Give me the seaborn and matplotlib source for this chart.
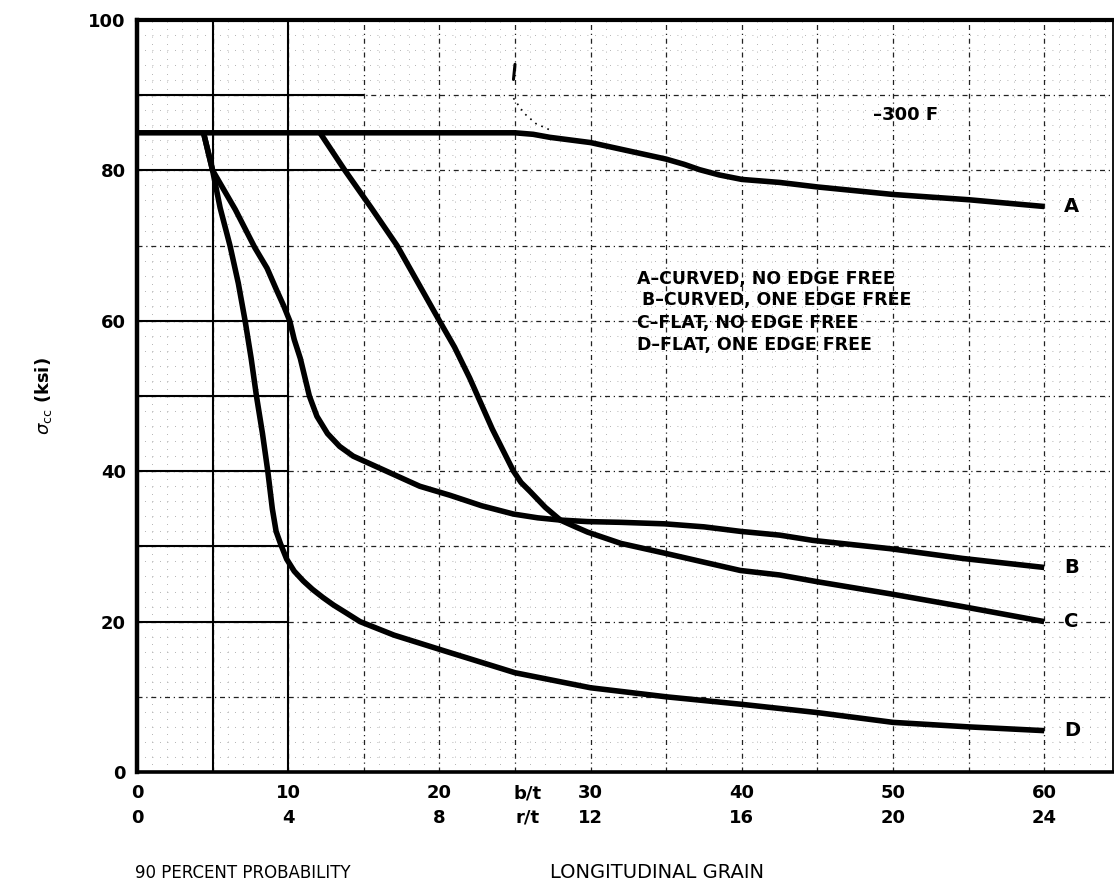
import numpy as np
import pandas as pd
import matplotlib
matplotlib.use("Agg")
import matplotlib.pyplot as plt
import seaborn as sns

# Crippling stress curves, -300 F, 90 percent probability, longitudinal grain
a_bt = [0, 25, 26.2, 27.3, 30, 32.5, 35, 36.2, 37.2, 38.5, 40, 42.5, 45, 50, 55, 60]
a_sig = [85, 85, 84.8, 84.4, 83.7, 82.6, 81.5, 80.8, 80.1, 79.4, 78.8, 78.4, 77.8,
         76.8, 76.1, 75.2]

b_bt = [4.4, 5.0, 6.5, 7.8, 8.6, 9.25, 9.7, 10.1, 10.4, 10.8, 11.1, 11.4, 11.9,
        12.6, 13.4, 14.3, 15.4, 16.5, 18.7, 20.7, 22.8, 24.9, 26.5, 28.0, 29.8,
        32.0, 34.9, 37.5, 39.9, 42.5, 44.7, 49.8, 54.6, 60]
b_sig = [85, 80, 74.8, 69.7, 67, 64, 62, 60, 57.5, 55, 52.5, 50, 47.3,
         45, 43.3, 42, 41, 40, 38, 36.8, 35.4, 34.3, 33.8, 33.5, 33.3,
         33.2, 33.0, 32.6, 32.0, 31.5, 30.8, 29.7, 28.4, 27.2]

c_bt = [12.1, 13.75, 15.5, 17.2, 18.6, 20.0, 21.0, 22.0, 23.5, 24.9, 25.4, 26.0,
        27.0, 28.0, 29.0, 29.8, 32.0, 34.9, 37.5, 39.9, 42.5, 45, 49.8, 54.6, 60]
c_sig = [85, 80, 75, 70, 65, 60, 56.5, 52.4, 45.6, 40, 38.5, 37.3,
         35.2, 33.5, 32.6, 31.9, 30.4, 29.1, 27.9, 26.8, 26.2, 25.3, 23.7, 22.0, 20.0]

d_bt = [4.4, 5.0, 5.5, 6.15, 6.7, 7.15, 7.55, 7.9, 8.3, 8.65, 8.95, 9.2, 9.5, 9.9,
        10.4, 11.0, 11.6, 12.3, 13.0, 13.8, 14.75, 17.0, 20.5, 25, 30, 35, 40, 45,
        50, 55, 60]
d_sig = [85, 80, 75, 70, 65, 60, 55, 50, 45, 40, 35, 32, 30.3, 28.3,
         26.7, 25.4, 24.3, 23.2, 22.2, 21.2, 20, 18.2, 16, 13.2, 11.2, 10.0, 9.0, 7.9,
         6.6, 6.0, 5.5]

curve_names = ["A", "B", "C", "D"]
legend_lines = ["A\u2013CURVED, NO EDGE FREE",
                "B\u2013CURVED, ONE EDGE FREE",
                "C\u2013FLAT, NO EDGE FREE",
                "D\u2013FLAT, ONE EDGE FREE"]

bt_ticks = [0, 10, 20, 30, 40, 50, 60]
rt_ticks = ["0", "4", "8", "12", "16", "20", "24"]
sig_ticks = [0, 20, 40, 60, 80, 100]

# small pencil mark near the top of the chart
mark_bt = [25.0, 24.9]
mark_sig = [94.1, 92.1]
trace_bt = [24.9, 25.6, 26.4, 27.4]
trace_sig = [89.6, 87.6, 86.2, 85.3]

sns.set_theme(style="white")
plt.rcParams["font.family"] = ["DejaVu Sans"]
plt.rcParams["text.color"] = "black"
plt.rcParams["axes.labelcolor"] = "black"
plt.rcParams["xtick.color"] = "black"
plt.rcParams["ytick.color"] = "black"

frames = []
for name, xs, ys in zip(curve_names, [a_bt, b_bt, c_bt, d_bt],
                        [a_sig, b_sig, c_sig, d_sig]):
    frames.append(pd.DataFrame({"bt": xs, "sig": ys, "curve": name}))
df = pd.concat(frames, ignore_index=True)

fig = plt.figure(figsize=(11.14, 8.86), dpi=100)
ax = fig.add_axes([137 / 1114, 114 / 886, 976 / 1114, 752 / 886])
x_max = 64.55
ax.set_xlim(0, x_max)
ax.set_ylim(0, 100)

# graph-paper grid: fine dotted rulings and heavier dash-dot rulings
fine_x = [v for v in np.arange(1, 65, 1) if v % 5 != 0]
fine_y = [v for v in np.arange(2, 100, 2) if v % 10 != 0]
ax.vlines(fine_x, 0, 100, colors="#9a9a9a", linewidth=0.6,
          linestyles=(0, (1, 8)), zorder=1)
ax.hlines(fine_y, 0, x_max, colors="#9a9a9a", linewidth=0.6,
          linestyles=(0, (1, 8)), zorder=1)
ax.vlines(np.arange(5, 65, 5), 0, 100, colors="#222222", linewidth=0.9,
          linestyles=(0, (4, 3, 1, 3)), zorder=1)
ax.hlines(np.arange(10, 100, 10), 0, x_max, colors="#222222", linewidth=0.9,
          linestyles=(0, (4, 3, 1, 3)), zorder=1)
# solid rulings on the left part of the sheet
ax.vlines([5, 10], 0, 100, colors="black", linewidth=1.5, zorder=1.5)
ax.hlines([90, 80], 0, 15, colors="black", linewidth=1.5, zorder=1.5)
ax.hlines([60, 50, 40, 30, 20], 0, 10, colors="black", linewidth=1.5, zorder=1.5)

sns.lineplot(data=df, x="bt", y="sig", units="curve", estimator=None,
             sort=False, color="black", linewidth=4.0, legend=False,
             ax=ax, zorder=3)
for ln in ax.get_lines():
    ln.set_solid_capstyle("butt")
    ln.set_solid_joinstyle("round")

ax.plot(mark_bt, mark_sig, color="black", linewidth=2.2, zorder=3)
ax.plot(trace_bt, trace_sig, color="black", linewidth=1.2,
        linestyle=(0, (1, 3)), zorder=3)

# curve letters at the right-hand ends
for name, xs, ys in zip(curve_names, [a_bt, b_bt, c_bt, d_bt],
                        [a_sig, b_sig, c_sig, d_sig]):
    ax.text(xs[-1] + 1.3, ys[-1], name, fontsize=14, fontweight="bold",
            ha="left", va="center", zorder=4)

ax.text(50.8, 87.4, "\u2013300 F", fontsize=13, fontweight="bold",
        ha="center", va="center", zorder=4)

legend_x = [33.1, 33.4, 33.1, 33.1]
legend_y = [65.5, 62.7, 59.7, 56.8]
for tx, ty, s in zip(legend_x, legend_y, legend_lines):
    ax.text(tx, ty, s, fontsize=12.5, fontweight="bold",
            ha="left", va="center", zorder=4)

ax.set_xticks(bt_ticks + [25.8])
ax.set_xticklabels([f"{b}\n{r}" for b, r in zip(bt_ticks, rt_ticks)] + ["b/t\nr/t"],
                   fontsize=13, fontweight="bold", linespacing=1.45)
ax.set_yticks(sig_ticks)
ax.set_yticklabels([str(v) for v in sig_ticks], fontsize=13, fontweight="bold")
ax.tick_params(axis="both", length=0, colors="black")
ax.tick_params(axis="x", pad=9)
ax.tick_params(axis="y", pad=8)
ax.set_xlabel("")
ax.set_ylabel(r"$\sigma_{\mathrm{cc}}$ (ksi)", fontsize=13, fontweight="bold",
              color="black")
ax.yaxis.set_label_coords(-0.085, 0.5)

for side, lw in [("left", 3.2), ("bottom", 2.6), ("top", 3.0), ("right", 1.3)]:
    ax.spines[side].set_visible(True)
    ax.spines[side].set_color("black")
    ax.spines[side].set_linewidth(lw)
    ax.spines[side].set_zorder(5)

fig.text(135 / 1114, 1 - 873 / 886, "90 PERCENT PROBABILITY", fontsize=12,
         ha="left", va="center", color="black")
fig.text(550 / 1114, 1 - 873 / 886, "LONGITUDINAL GRAIN", fontsize=14,
         ha="left", va="center", color="black")

fig.savefig("out.png", dpi=100, facecolor="white")
